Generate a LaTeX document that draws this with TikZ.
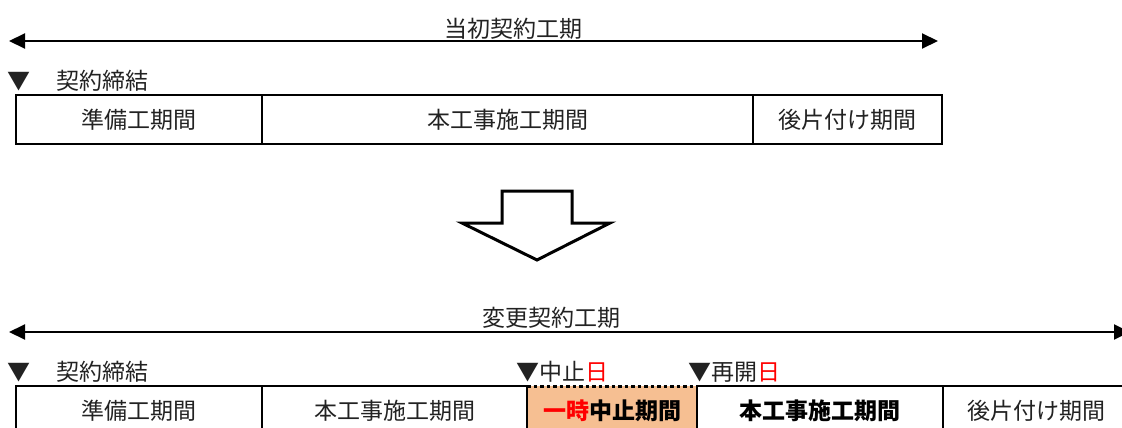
\documentclass[tikz,border=0pt]{standalone}
\usepackage{fontspec}
\setmainfont{Noto Sans CJK JP}
\usetikzlibrary{arrows.meta}
\definecolor{stoporange}{HTML}{F6BF92}
\definecolor{txtgray}{HTML}{222222}
\begin{document}
\begin{tikzpicture}[x=1pt,y=-1pt,
  every node/.style={inner sep=0pt, outer sep=0pt, font=\fontsize{23}{23}\selectfont, text=txtgray},
  cell/.style={draw=black, line width=2pt, minimum height=49pt, anchor=north west},
  bare/.style={minimum height=49pt, anchor=north west},
  span/.style={line width=2pt, {Triangle[length=16pt,width=15pt]}-{Triangle[length=16pt,width=15pt]}},
  lbl/.style={anchor=base west},
  bold/.style={font=\fontsize{23}{23}\selectfont\bfseries, text=black}
]
\useasboundingbox (0,0) rectangle (1122,428);

% ---------- original contract period ----------
\coordinate (t1L) at (9,41);
\coordinate (t1R) at (938,41);
\draw[span] (t1L) -- (t1R);
\node[anchor=base] (t1lbl) at (513,37.5) {当初契約工期};

\node[lbl] (t1tri) at (8,89.5) {▼};
\node[lbl] (t1sign) at (56,89.5) {契約締結};

\node[cell, minimum width=246pt] (a1) at (16,95) {準備工期間};
\node[cell, minimum width=491pt] (a2) at (262,95) {本工事施工期間};
\node[cell, minimum width=189pt] (a3) at (753,95) {後片付け期間};

% ---------- block arrow ----------
\draw[line width=3pt, line join=miter, fill=white]
  (502,191) -- (572,191) -- (572,223) -- (610,223) -- (537,260) -- (462,223) -- (502,223) -- cycle;

% ---------- changed contract period ----------
\coordinate (t2L) at (9,332);
\coordinate (t2R) at (1130,332);
\draw[span] (t2L) -- (t2R);
\node[anchor=base] (t2lbl) at (551,326.5) {変更契約工期};

\node[lbl] (t2tri) at (8,380.5) {▼};
\node[lbl] (t2sign) at (56,380.5) {契約締結};
\node[lbl] (stopday) at (516,380.5) {▼中止\textcolor{red}{日}};
\node[lbl] (resday) at (688,380.5) {▼再開\textcolor{red}{日}};

\node[cell, minimum width=246pt] (b1) at (16,386) {準備工期間};
\node[cell, minimum width=265pt] (b2) at (262,386) {本工事施工期間};
\node[bare, minimum width=170pt, fill=stoporange, bold] (b3) at (527,386) {\textcolor{red}{一時}中止期間};
\node[cell, minimum width=246pt, bold] (b4) at (697,386) {本工事施工期間};
\node[cell, minimum width=186pt] (b5) at (943,386) {後片付け期間};

\draw[line width=2pt] (b3.north west) -- (b3.south west) -- (b3.south east) -- (b3.north east);
\draw[line width=3pt, dash pattern=on 3.5pt off 3pt] (b3.north west) -- (b3.north east);
\end{tikzpicture}
\end{document}
